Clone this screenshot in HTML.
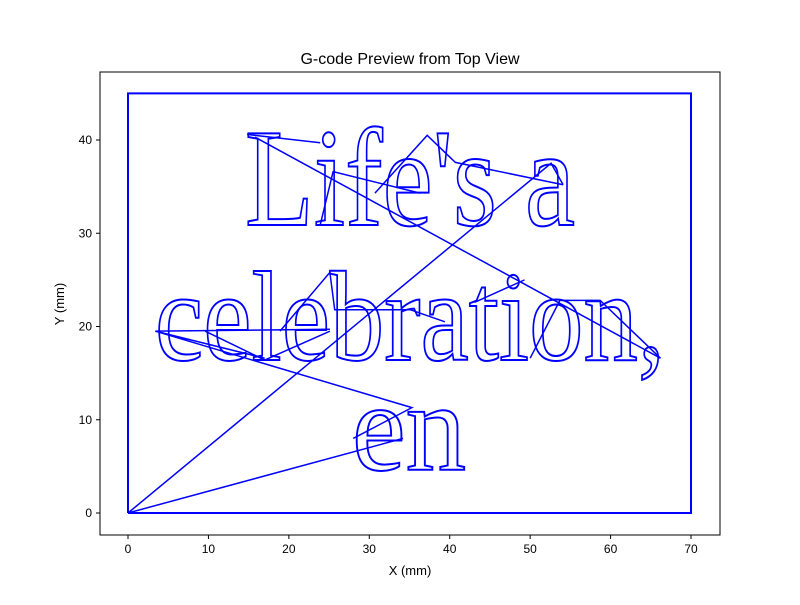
<!DOCTYPE html>
<html><head><meta charset="utf-8"><style>
body{margin:0;background:#fff}
svg text{font-family:"Liberation Sans",sans-serif}
</style></head><body>
<svg width="800" height="600" viewBox="0 0 800 600" xmlns="http://www.w3.org/2000/svg">
<rect width="800" height="600" fill="#fff"/>
<text x="410" y="64" font-size="16" text-anchor="middle" fill="#000">G-code Preview from Top View</text>
<g id="plot"></g>
<g id="letters" fill="none" stroke="#0000ff" stroke-width="2">
<text x="245" y="225" font-size="140" textLength="330" lengthAdjust="spacingAndGlyphs" style="font-family:'Liberation Serif',serif">Life's a</text>
<text x="155" y="360" font-size="128" textLength="510" lengthAdjust="spacingAndGlyphs" style="font-family:'Liberation Serif',serif">celebration,</text>
<text x="352" y="470" font-size="126" textLength="114" lengthAdjust="spacingAndGlyphs" style="font-family:'Liberation Serif',serif">en</text>
</g>
<rect x="100" y="72" width="620" height="463" fill="none" stroke="#000" stroke-width="1"/>
<g id="xt"></g>
<g id="yt"></g>
<text x="410" y="575" font-size="13" text-anchor="middle">X (mm)</text>
<text transform="translate(64,304) rotate(-90)" font-size="13" text-anchor="middle">Y (mm)</text>
</svg>
<script>
const xTicks=[0,10,20,30,40,50,60,70];
const yTicks=[0,10,20,30,40];
const boxX=[0,70,70,0,0];
const boxY=[0,0,45,45,0];
const travelX=[[0,34.2],[28,35.3,3.4,17],[0,52.6,54.1],[14.8,23.9],[15.8,66.2],[23.9,25.5,36.3],[30.7,37.2,40.7,54.1],[3.4,25.1],[9.6,17,25.1],[18.9,25.1,25.7,35.1,39.4],[43.1,49.3],[50,53.7,58.7,66.2]];
const travelY=[[0,8],[8,11.3,19.5,16.6],[0,37.5,35.2],[40.6,39.7],[40.3,16.6],[30.9,36.6,34.3],[34.3,40.5,37.6,35.2],[19.5,19.7],[19.5,16.4,19.5],[19.5,25.8,21.8,21.8,20.5],[22.6,25],[16.6,22.8,22.8,16.6]];
const X0=128,SX=8.043,Y0=513,SY=9.325;
const sx=v=>X0+v*SX, sy=v=>Y0-v*SY;
const NS="http://www.w3.org/2000/svg";
const plot=document.getElementById('plot');
function mk(tag,attrs,parent){const e=document.createElementNS(NS,tag);for(const k in attrs)e.setAttribute(k,attrs[k]);parent.appendChild(e);return e;}
const box=mk('polyline',{points:boxX.map((v,i)=>sx(v)+','+sy(boxY[i])).join(' '),fill:'none',stroke:'#0000ff','stroke-width':2},plot);


travelX.forEach((xs,j)=>{
 const p=mk('polyline',{points:xs.map((v,i)=>sx(v)+','+sy(travelY[j][i])).join(' '),fill:'none',stroke:'#0000ff','stroke-width':1.5},plot);
 
 
});
const xt=document.getElementById('xt'),yt=document.getElementById('yt');
xTicks.forEach(v=>{
 const l=mk('line',{x1:sx(v),x2:sx(v),y1:535,y2:539,stroke:'#000'},xt);
 
 
 const t=mk('text',{x:sx(v),y:553,'font-size':12,'text-anchor':'middle'},xt);t.textContent=v;
 
 
});
yTicks.forEach(v=>{
 const l=mk('line',{x1:96,x2:100,y1:sy(v),y2:sy(v),stroke:'#000'},yt);
 
 
 const t=mk('text',{x:92,y:sy(v)+4,'font-size':12,'text-anchor':'end'},yt);t.textContent=v;
 
 
});
</script>
</body></html>
